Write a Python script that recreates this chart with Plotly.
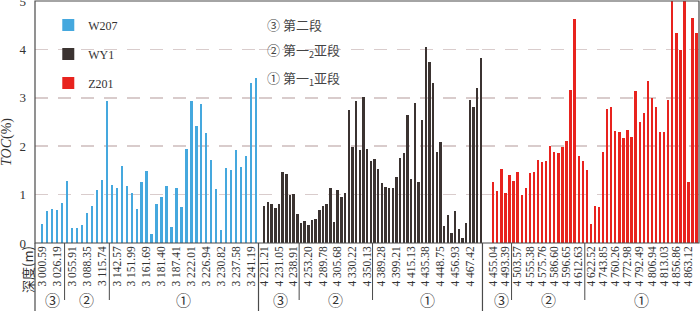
import plotly.graph_objects as go

# ---------------- data ----------------
wells = ["W207", "WY1", "Z201"]

w207_toc = [0.40, 0.66, 0.70, 0.69, 0.82, 1.29, 0.30, 0.30, 0.38, 0.62,
            0.76, 1.09, 1.30, 2.94, 1.20, 1.14, 1.60, 1.17, 1.03, 0.71,
            1.27, 1.49, 0.19, 0.80, 0.96, 1.17, 0.34, 1.14, 0.75, 1.94,
            2.94, 2.41, 2.87, 2.27, 1.72, 1.12, 0.27, 1.54, 1.51, 1.92,
            1.57, 1.79, 3.30, 3.40]

wy1_toc = [0.76, 0.85, 0.80, 0.73, 0.81, 1.46, 1.42, 0.99, 1.02, 0.60,
           0.41, 0.46, 0.38, 0.47, 0.49, 0.69, 0.77, 0.80, 1.13, 0.44,
           1.09, 0.95, 1.03, 2.75, 1.98, 2.93, 1.93, 3.01, 1.95, 1.70,
           1.73, 1.53, 1.23, 1.16, 1.14, 1.13, 1.36, 1.76, 1.85, 2.65,
           1.33, 2.90, 1.26, 2.55, 4.05, 3.75, 3.30, 1.89, 2.09, 0.36,
           0.57, 0.21, 0.67, 0.29, 0.10, 0.41, 2.96, 2.80, 3.20, 3.82]

z201_toc = [1.26, 1.08, 1.53, 1.03, 1.41, 1.28, 1.47, 0.99, 1.13, 1.44,
            1.46, 1.72, 1.67, 1.70, 2.01, 1.88, 1.85, 1.98, 2.11, 3.16,
            4.63, 1.79, 1.70, 1.50, 0.39, 0.77, 0.74, 1.88, 2.77, 2.82,
            2.32, 2.29, 2.17, 2.34, 2.20, 3.15, 2.51, 2.69, 3.34, 2.99,
            2.82, 2.29, 2.29, 2.96, 5.00, 4.33, 3.99, 5.00, 1.26, 4.65,
            4.33]

w207_depth_labels = ["3 000.59", "3 026.19", "3 055.91", "3 088.35", "3 115.74",
                     "3 142.57", "3 151.99", "3 161.69", "3 181.40", "3 187.41",
                     "3 222.01", "3 226.94", "3 230.82", "3 237.58", "3 241.19"]
wy1_depth_labels = ["4 221.21", "4 231.05", "4 238.91", "4 253.20", "4 289.78",
                    "4 305.68", "4 330.22", "4 350.13", "4 389.28", "4 399.21",
                    "4 415.13", "4 435.38", "4 448.75", "4 456.93", "4 467.42"]
z201_depth_labels = ["4 455.04", "4 493.39", "4 503.57", "4 555.38", "4 575.76",
                     "4 586.60", "4 596.65", "4 612.63", "4 622.52", "4 743.85",
                     "4 760.26", "4 772.98", "4 792.49", "4 806.94", "4 813.03",
                     "4 856.86", "4 863.12"]

# samples per label, and number of samples in segments (③, ②, ①)
label_steps = [3, 4, 3]
w207_segments = [5, 9, 30]
wy1_segments = [10, 20, 30]
z201_segments = [5, 18, 28]
segment_names = ["③", "②", "①"]
stage_legend = ["③ 第二段", "② 第一<sub>2</sub>亚段", "① 第一<sub>1</sub>亚段"]

# ---------------- style ----------------
colors = ["#45A8DE", "#3B3331", "#E8231E"]
bar_widths = [0.47, 0.65, 0.58]
x_domains = [[0.0, 0.3366], [0.3366, 0.6739], [0.6739, 1.0]]
x_ranges = [[-1.45, 43.5], [-1.58, 59.46], [-2.65, 50.57]]
serif = "Liberation Serif, Times New Roman, serif"
cjk = "Noto Sans CJK SC, sans-serif"
frame_col = "#4a4a4a"

series = [w207_toc, wy1_toc, z201_toc]
depth_labels = [w207_depth_labels, wy1_depth_labels, z201_depth_labels]
segments = [w207_segments, wy1_segments, z201_segments]

fig = go.Figure()
axis_ids = ["x", "x2", "x3"]
for i, name in enumerate(wells):
    vals = series[i]
    fig.add_trace(go.Bar(
        x=list(range(len(vals))), y=vals, name=name,
        marker=dict(color=colors[i], line=dict(width=0)),
        width=bar_widths[i], xaxis=axis_ids[i], yaxis="y",
        legendgroup=name, showlegend=True,
    ))

layout_axes = {}
for i in range(3):
    key = "xaxis" if i == 0 else f"xaxis{i+1}"
    step = label_steps[i]
    tickvals = [k * step for k in range(len(depth_labels[i]))]
    layout_axes[key] = dict(
        domain=x_domains[i], range=x_ranges[i], anchor="y",
        tickmode="array", tickvals=tickvals, ticktext=depth_labels[i],
        tickangle=-90, tickfont=dict(family=serif, size=11.5, color="#333"),
        showgrid=False, zeroline=False, showline=False, ticks="",
        automargin=False, fixedrange=True, ticklabeloverflow="allow",
    )

fig.update_layout(
    width=700, height=311,
    margin=dict(l=35, r=1, t=1, b=68, autoexpand=False),
    paper_bgcolor="white", plot_bgcolor="white",
    bargap=0,
    yaxis=dict(
        range=[0, 5], tickvals=[0, 1, 2, 3, 4, 5], anchor="x",
        showgrid=True, gridcolor="#d9cccc", griddash="13px,10px", gridwidth=1.5,
        zeroline=False, showline=False, ticks="", ticklabelstandoff=8,
        automargin=False, fixedrange=True, ticklabeloverflow="allow",
        tickfont=dict(family=serif, size=13, color="#333"),
    ),
    legend=dict(
        x=0.02, y=0.961, xanchor="left", yanchor="top",
        bgcolor="rgba(0,0,0,0)", traceorder="grouped", tracegroupgap=10,
        font=dict(family=serif, size=12, color="#333"),
    ),
    showlegend=True,
    **layout_axes,
)

shapes = []
# frame
shapes.append(dict(type="rect", xref="paper", yref="paper", x0=0, x1=1, y0=0, y1=1,
                   line=dict(color=frame_col, width=1.2), layer="above"))
# left axis extension and well separators down to the bottom
bottom = -68 / 242
shapes.append(dict(type="line", xref="paper", yref="paper", x0=0, x1=0, y0=0, y1=bottom,
                   line=dict(color=frame_col, width=1.2)))
for ax in ["x2 domain", "x3 domain"]:
    shapes.append(dict(type="line", xref=ax, yref="paper", x0=0, x1=0, y0=0, y1=bottom,
                       line=dict(color=frame_col, width=1.2)))

annotations = []
seg_bottom = -57 / 242
for i in range(3):
    xr = axis_ids[i]
    start = 0
    for j, n in enumerate(segments[i]):
        end = start + n
        if j < len(segments[i]) - 1:
            shapes.append(dict(type="line", xref=xr, yref="paper", x0=end - 0.5, x1=end - 0.5,
                               y0=0, y1=seg_bottom, line=dict(color=frame_col, width=1)))
        annotations.append(dict(xref=xr, yref="paper", x=(start + end - 1) / 2, y=-56 / 242,
                                text=segment_names[j], showarrow=False,
                                font=dict(family=cjk, size=15, color="#333"),
                                xanchor="center", yanchor="middle"))
        start = end

# stage legend
for k, txt in enumerate(stage_legend):
    annotations.append(dict(xref="paper", yref="paper", x=(265 - 35) / 664,
                            y=(243 - [24, 50, 78][k]) / 242, text=txt, showarrow=False,
                            xanchor="left", yanchor="middle",
                            font=dict(family=cjk, size=13, color="#444")))

# axis titles
annotations.append(dict(xref="paper", yref="paper", x=(7 - 35) / 664, y=(243 - 142) / 242,
                        text="<i>TOC</i>(%)", textangle=-90, showarrow=False,
                        xanchor="center", yanchor="middle",
                        font=dict(family=serif, size=14, color="#333")))
annotations.append(dict(xref="paper", yref="paper", x=(27 - 35) / 664, y=(243 - 270) / 242,
                        text="深度(m)", textangle=-90, showarrow=False,
                        xanchor="center", yanchor="middle",
                        font=dict(family=cjk, size=13, color="#333")))

fig.update_layout(shapes=shapes, annotations=annotations)
fig.write_html("out.html", config={"displayModeBar": False, "staticPlot": True},
               post_script="document.body.style.margin='0';document.body.style.overflow='hidden';")
